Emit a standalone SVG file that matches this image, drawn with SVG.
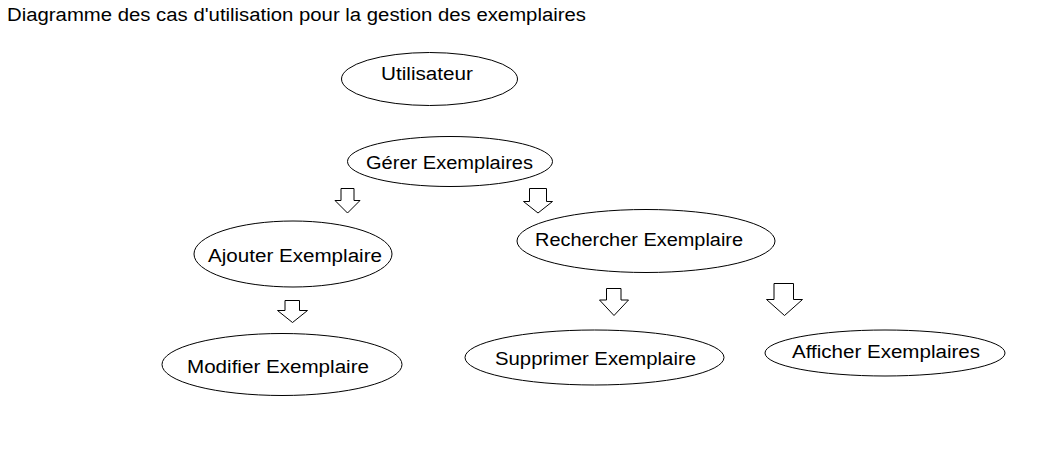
<svg xmlns="http://www.w3.org/2000/svg" width="1047" height="451" viewBox="0 0 1047 451">
<style>
.n ellipse{fill:#fff;stroke:#000;stroke-width:1}
text{font-family:"Liberation Sans",Arial,sans-serif;font-size:18px;fill:#000}
.c path{fill:#fff;stroke:#000;stroke-width:1}
</style>
<rect width="1047" height="451" fill="#fff"/>
<text x="7" y="21" textLength="579" lengthAdjust="spacingAndGlyphs">Diagramme des cas d'utilisation pour la gestion des exemplaires</text>
<g id="utilisateur" class="n"><ellipse cx="429.5" cy="79" rx="88" ry="26.5"/><text x="381" y="80" textLength="92" lengthAdjust="spacingAndGlyphs">Utilisateur</text></g>
<g id="gerer" class="n"><ellipse cx="450" cy="161.5" rx="102.5" ry="25"/><text x="366" y="169" textLength="167" lengthAdjust="spacingAndGlyphs">Gérer Exemplaires</text></g>
<g id="ajouter" class="n"><ellipse cx="293" cy="254" rx="99" ry="33"/><text x="208" y="261.5" textLength="174" lengthAdjust="spacingAndGlyphs">Ajouter Exemplaire</text></g>
<g id="rechercher" class="n"><ellipse cx="646" cy="241" rx="129" ry="31.5"/><text x="535" y="246" textLength="208" lengthAdjust="spacingAndGlyphs">Rechercher Exemplaire</text></g>
<g id="modifier" class="n"><ellipse cx="282" cy="364.5" rx="120" ry="31"/><text x="187" y="372.5" textLength="182" lengthAdjust="spacingAndGlyphs">Modifier Exemplaire</text></g>
<g id="supprimer" class="n"><ellipse cx="594.5" cy="357.5" rx="129.5" ry="27.5"/><text x="495" y="365" textLength="201" lengthAdjust="spacingAndGlyphs">Supprimer Exemplaire</text></g>
<g id="afficher" class="n"><ellipse cx="885" cy="353" rx="120" ry="23"/><text x="792" y="358" textLength="188" lengthAdjust="spacingAndGlyphs">Afficher Exemplaires</text></g>
<g id="connectors" class="c">
<path d="M341,188.5 H354 V200.5 H360 L347.5,213 L335,200.5 H341 Z"/>
<path d="M529.5,188.5 H546.5 V201.5 H552.5 L538,213 L523.5,201.5 H529.5 Z"/>
<path d="M285,300.5 H299.5 V310.5 H307.5 L292.5,322.5 L277.5,310.5 H285 Z"/>
<path d="M606.5,288.5 H621 V300 H628.5 L614,315.5 L599.5,300 H606.5 Z"/>
<path d="M774,283.5 H793.5 V299.5 H802.5 L784.5,315.5 L766.5,299.5 H774 Z"/>
</g>
</svg>
